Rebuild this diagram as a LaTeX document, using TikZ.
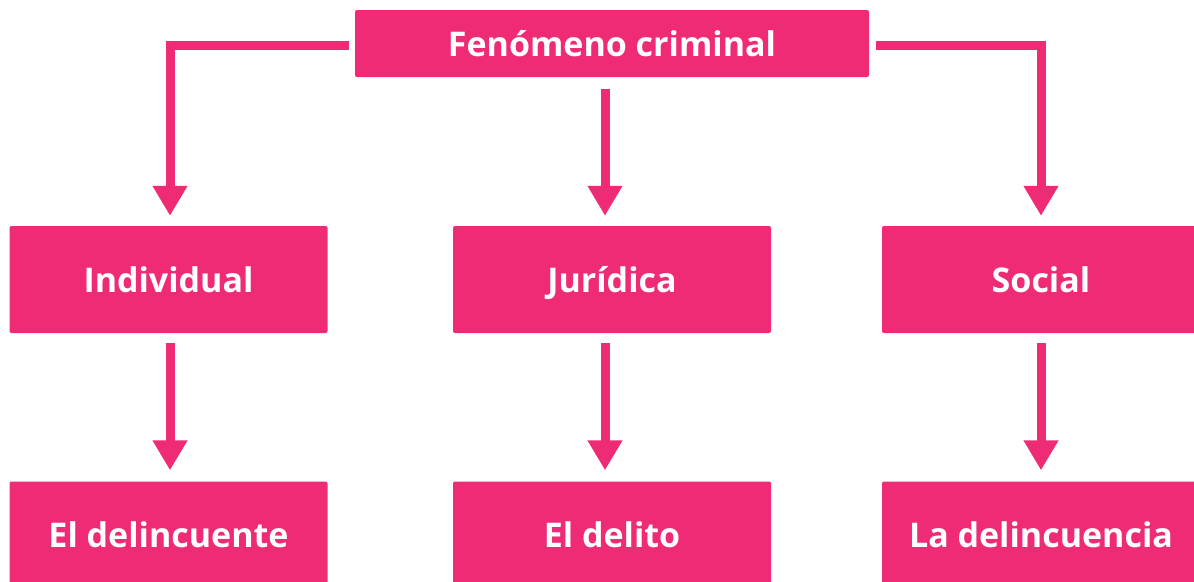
\documentclass[tikz,border=0pt]{standalone}
\usepackage{fontspec}
\setmainfont{Open Sans}
\usetikzlibrary{arrows.meta}
\definecolor{pinkc}{RGB}{239,43,118}
\tikzset{
  box/.style={fill=pinkc, rounded corners=2pt, inner sep=0pt, text=white,
    font=\bfseries\fontsize{34}{38}\selectfont, text height=25pt, text depth=0pt,
    minimum width=318pt, minimum height=107pt},
  conn/.style={draw=pinkc, line width=9pt, -{Triangle[width=33pt,length=30pt]}}
}
\begin{document}
\begin{tikzpicture}[x=1pt,y=1pt]
\useasboundingbox (0,0) rectangle (1194,-581);
\clip (0,0) rectangle (1194,-581);
\node[box, minimum width=514pt, minimum height=67pt] (top) at (612,-43.5) {Fenómeno criminal};
\node[box] (ind) at (168.5,-279.5) {Individual};
\node[box] (jur) at (612,-279.5) {Jurídica};
\node[box] (soc) at (1041,-279.5) {Social};
\node[box] (del1) at (168.5,-535) {El delincuente};
\node[box] (del2) at (612,-535) {El delito};
\node[box] (del3) at (1041,-535) {La delincuencia};
\coordinate (lstart) at (349,-45);
\coordinate (rstart) at (876,-45);
\coordinate (lcorner) at (170,-45);
\coordinate (rcorner) at (1041,-45);
\coordinate (mstart) at (605,-89);
\coordinate (b1) at (170,-343);
\coordinate (b2) at (605,-343);
\coordinate (b3) at (1041,-343);
\draw[conn, -] (lstart) -- ([xshift=-4.5pt]lcorner);
\draw[conn] ([yshift=4.5pt]lcorner) -- (lcorner |- ind.north) [shorten >=10pt];
\draw[conn, -] (rstart) -- ([xshift=4.5pt]rcorner);
\draw[conn] ([yshift=4.5pt]rcorner) -- (rcorner |- soc.north) [shorten >=10pt];
\draw[conn, shorten >=10pt] (mstart) -- (mstart |- jur.north);
\draw[conn, shorten >=11pt] (b1) -- (b1 |- del1.north);
\draw[conn, shorten >=11pt] (b2) -- (b2 |- del2.north);
\draw[conn, shorten >=11pt] (b3) -- (b3 |- del3.north);
\end{tikzpicture}
\end{document}
